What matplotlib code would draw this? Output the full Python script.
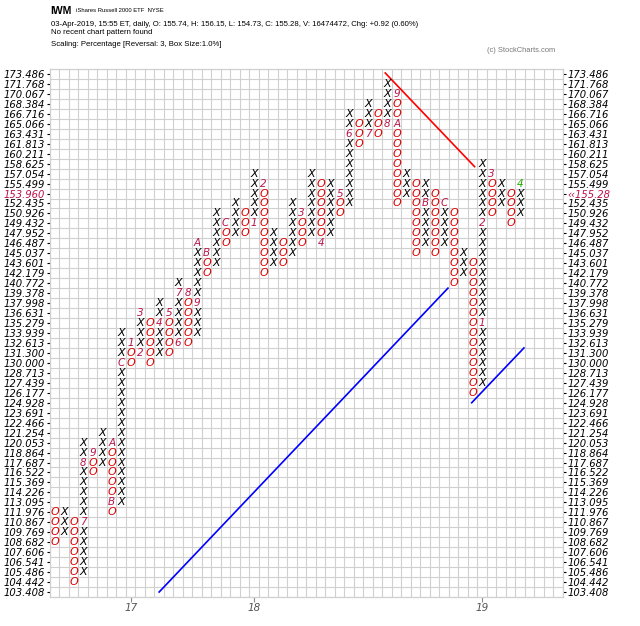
# Point & Figure chart - IWM (1% box, 3 box reversal)
import numpy as np
import matplotlib.pyplot as plt

# price levels on the scale, top to bottom as printed
levels = ['173.486', '171.768', '170.067', '168.384', '166.716', '165.066', '163.431',
          '161.813', '160.211', '158.625', '157.054', '155.499', '153.960', '152.435',
          '150.926', '149.432', '147.952', '146.487', '145.037', '143.601', '142.179',
          '140.772', '139.378', '137.998', '136.631', '135.279', '133.939', '132.613',
          '131.300', '130.000', '128.713', '127.439', '126.177', '124.928', '123.691',
          '122.466', '121.254', '120.053', '118.864', '117.687', '116.522', '115.369',
          '114.226', '113.095', '111.976', '110.867', '109.769', '108.682', '107.606',
          '106.541', '105.486', '104.442', '103.408']
levels = levels[::-1]   # index 0 = lowest box
last_row = 12           # row (from the top) holding the last price
last_price = '155.28'

# columns: kind, lowest box, highest box (box index into levels)
col_kind = 'OXOXOXOXOXOXOXOXOXOXOXOXOXOXOXOXOXOXOXOXOXOXOXOXOX'
col_low = [5, 6, 1, 2, 12, 13, 8, 9, 23, 24, 23, 24, 24, 25, 25, 26, 32, 33, 35, 36,
           36, 37, 32, 33, 33, 34, 35, 36, 35, 36, 38, 39, 45, 46, 46, 47, 39, 40, 34, 35,
           34, 35, 31, 32, 20, 21, 38, 39, 37, 38]
col_high = [8, 8, 7, 15, 14, 16, 15, 26, 25, 28, 27, 29, 28, 31, 30, 35, 34, 38, 37, 39,
            38, 42, 41, 36, 35, 39, 38, 42, 41, 41, 40, 48, 47, 49, 48, 51, 50, 42, 41, 41,
            40, 39, 38, 34, 33, 43, 42, 41, 40, 41]

# month markers (column, box, month)
months = [(3, 7, '7'), (3, 13, '8'), (4, 14, '9'), (6, 15, 'A'), (6, 9, 'B'), (7, 23, 'C'),
          (8, 25, '1'), (9, 24, '2'), (9, 28, '3'), (11, 27, '4'), (12, 28, '5'), (13, 25, '6'),
          (13, 30, '7'), (14, 30, '8'), (15, 29, '9'), (15, 35, 'A'), (16, 34, 'B'), (18, 37, 'C'),
          (21, 37, '1'), (22, 41, '2'), (26, 38, '3'), (28, 35, '4'), (30, 40, '5'), (31, 46, '6'),
          (33, 46, '7'), (35, 47, '8'), (36, 50, '9'), (36, 47, 'A'), (39, 39, 'B'), (41, 39, 'C'),
          (45, 27, '1'), (45, 37, '2'), (46, 42, '3'), (49, 41, '4')]

years = ['17', '18', '19']
year_cols = [8, 21, 45]

# trend lines (x0, y0, x1, y1) in column / box units
red_line = [34.8, 52.1, 44.2, 42.7]
blue_lines = [[11.0, 0.0, 41.4, 30.5], [43.9, 19.0, 49.4, 24.5]]

n_cols = 54

fig = plt.figure(figsize=(6.4, 6.26), dpi=100)
ax = fig.add_axes([49.9 / 640, 29 / 626, 513 / 640, 528 / 626])

# boxes
marked = {(m[0], m[1]) for m in months}
for c in range(len(col_kind)):
    for r in range(col_low[c], col_high[c] + 1):
        if (c, r) in marked:
            continue
        if col_kind[c] == 'X':
            ax.text(c, r, 'X', ha='center', va='center', fontsize=8, style='italic',
                    color='black')
        else:
            ax.text(c, r, 'O', ha='center', va='center', fontsize=8, style='italic',
                    color='#dd0000')

for c, r, m in months:
    col = '#22aa00' if (c, r) == months[-1][:2] else '#b8164a'
    ax.text(c, r, m, ha='center', va='center', fontsize=7.5, style='italic', color=col)

ax.plot(red_line[::2], red_line[1::2], color='red', lw=1.2)
for bl in blue_lines:
    ax.plot(bl[::2], bl[1::2], color='blue', lw=1.2)

ax.set_xlim(-0.5, n_cols - 0.5)
ax.set_ylim(-0.5, len(levels) - 0.5)

# grid on cell borders
ax.set_xticks(np.arange(-0.5, n_cols, 1), minor=True)
ax.set_yticks(np.arange(-0.5, len(levels), 1), minor=True)
ax.grid(which='minor', color='#d0d0d0', lw=0.8)
ax.tick_params(which='minor', length=0)
ax.set_axisbelow(True)
for s in ax.spines.values():
    s.set_color('#d0d0d0')

ax.set_xticks(year_cols)
ax.set_xticklabels(years, fontsize=7.5, style='italic', color='#555555')
ax.tick_params(axis='x', length=3.5, color='#888888', pad=1)

ax.set_yticks(range(len(levels)))
ax.set_yticklabels(levels, fontsize=7.2, style='italic')
ax.tick_params(axis='y', length=2.5, pad=1)
hl = len(levels) - 1 - last_row
ax.get_yticklabels()[hl].set_color('#c0104a')

ax2 = ax.twinx()
ax2.set_ylim(ax.get_ylim())
right_labels = list(levels)
right_labels[hl] = '\u2039\u2039' + last_price
ax2.set_yticks(range(len(levels)))
ax2.set_yticklabels(right_labels, fontsize=7.2, style='italic')
ax2.tick_params(axis='y', length=2.5, pad=1)
ax2.get_yticklabels()[hl].set_color('#c0104a')
for s in ax2.spines.values():
    s.set_color('#d0d0d0')

# header
fig.text(50 / 640, 1 - 11 / 626, 'IWM', fontsize=7.5, weight='bold', family='Liberation Sans',
         va='center')
fig.text(76 / 640, 1 - 11 / 626, 'iShares Russell 2000 ETF  NYSE', fontsize=4.2,
         family='Liberation Sans', va='center')
fig.text(51 / 640, 1 - 25 / 626,
         '03-Apr-2019, 15:55 ET, daily, O: 155.74, H: 156.15, L: 154.73, C: 155.28, '
         'V: 16474472, Chg: +0.92 (0.60%)', fontsize=5.6, family='Liberation Sans', va='center')
fig.text(51 / 640, 1 - 33 / 626, 'No recent chart pattern found', fontsize=5.6,
         family='Liberation Sans', va='center')
fig.text(51 / 640, 1 - 44 / 626, 'Scaling: Percentage [Reversal: 3, Box Size:1.0%]',
         fontsize=5.6, family='Liberation Sans', va='center')
fig.text(487 / 640, 1 - 50 / 626, '(c) StockCharts.com', fontsize=5.4, color='#777777',
         family='Liberation Sans', va='center')

fig.savefig('out.png', dpi=100)
